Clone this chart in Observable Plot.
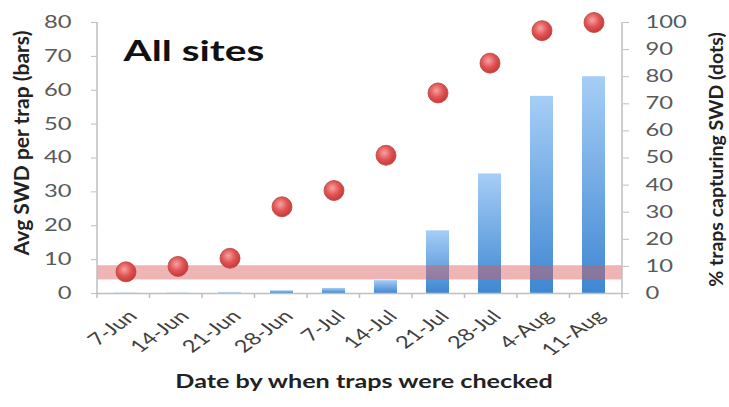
<!DOCTYPE html>
<html>
<head>
<meta charset="utf-8">
<script src="https://cdn.jsdelivr.net/npm/d3@7"></script>
<script src="https://cdn.jsdelivr.net/npm/@observablehq/plot@0.6"></script>
<style>
  html, body { margin: 0; padding: 0; background: #fff; }
  #chart { width: 729px; height: 407px; }
</style>
</head>
<body>
<div id="chart"></div>
<script>
// ---- data ----
const dates = ["7-Jun", "14-Jun", "21-Jun", "28-Jun", "7-Jul", "14-Jul", "21-Jul", "28-Jul", "4-Aug", "11-Aug"];
const avgSWD = [0.1, 0.1, 0.2, 0.8, 1.5, 3.8, 18.5, 35.3, 58.2, 64.0];      // bars, left axis
const pctTraps = [8, 10, 13, 32, 38, 51, 74, 85, 97, 100];                   // dots, right axis (%)
const leftTicks = [0, 10, 20, 30, 40, 50, 60, 70, 80];
const rightTicks = [0, 10, 20, 30, 40, 50, 60, 70, 80, 90, 100];
const leftMax = 80;
const rightMax = 100;
const thresholdBand = [4, 8.2];   // shaded band, in left-axis units
const title = "All sites";
const leftLabel = "Avg SWD per trap (bars)";
const rightLabel = "% traps capturing SWD (dots)";
const xLabel = "Date by when traps were checked";

const rows = dates.map((d, i) => ({date: d, avg: avgSWD[i], pct: pctTraps[i]}));
const k = leftMax / rightMax;   // right-axis value -> left-axis units

const NS = "http://www.w3.org/2000/svg";
function defs() {
  const g = document.createElementNS(NS, "defs");
  g.innerHTML = `
    <linearGradient id="barGrad" x1="0" y1="0" x2="0" y2="1">
      <stop offset="0" stop-color="#a6cef6"/>
      <stop offset="1" stop-color="#3f87d2"/>
    </linearGradient>
    <radialGradient id="dotGrad" cx="0.42" cy="0.38" r="0.62">
      <stop offset="0" stop-color="#f5a3a3"/>
      <stop offset="0.55" stop-color="#e25454"/>
      <stop offset="1" stop-color="#c83a3a"/>
    </radialGradient>`;
  return g;
}

const font = "Lato, 'Open Sans', sans-serif";

const chart = Plot.plot({
  width: 729,
  height: 407,
  marginLeft: 97,
  marginRight: 107,
  marginTop: 22,
  marginBottom: 114,
  style: {fontFamily: font, background: "#fff"},
  x: {type: "band", domain: dates, paddingInner: 0.56, paddingOuter: 0.28, axis: null},
  y: {domain: [0, leftMax], axis: null},
  marks: [
    defs,
    Plot.barY(rows, {x: "date", y: "avg", fill: "url(#barGrad)"}),
    Plot.rectY([thresholdBand], {y1: d => d[0], y2: d => d[1], fill: "#d95a58", fillOpacity: 0.45}),
    Plot.ruleY([0], {stroke: "#bfbfbf", strokeWidth: 1.5}),
    Plot.axisY({anchor: "left", ticks: leftTicks, tickSize: 6, tickPadding: 20, fontSize: 17,
                stroke: "#bfbfbf", fill: "#595959", label: null}),
    Plot.axisY({anchor: "right", ticks: rightTicks.map(v => v * k), tickFormat: v => Math.round(v / k),
                tickSize: 6, tickPadding: 17, fontSize: 17, stroke: "#bfbfbf", fill: "#595959", label: null}),
    Plot.axisX({anchor: "bottom", tickSize: 0, tickPadding: 20, tickRotate: -45, fontSize: 17,
                dx: 7, fill: "#404040", label: null}),
    Plot.dot(rows, {x: "date", y: d => d.pct * k, r: 10, fill: "url(#dotGrad)", stroke: "#b84444", strokeWidth: 0.8}),
    Plot.text([title], {text: d => d, frameAnchor: "top-left", dx: 26, dy: 18, fontSize: 29,
                        fontWeight: "bold", fill: "#111", textAnchor: "start"}),
    Plot.text([leftLabel], {text: d => d, frameAnchor: "left", dx: -75, dy: -15, rotate: -90,
                            textAnchor: "middle", fontSize: 21, fontWeight: "bold", fill: "#222"}),
    Plot.text([rightLabel], {text: d => d, frameAnchor: "right", dx: 94, dy: 1.5, rotate: -90,
                             textAnchor: "middle", fontSize: 19.5, fontWeight: "bold", fill: "#222"}),
    Plot.text([xLabel], {text: d => d, frameAnchor: "bottom", dx: 4, dy: 94, fontSize: 18,
                         fontWeight: "bold", fill: "#222"})
  ]
});

// axis lines and category-boundary ticks derived from Plot's scales
const sx = chart.scale("x"), sy = chart.scale("y");
const [r0, r1] = sx.range;
const step = (r1 - r0) / dates.length;
const y0 = sy.apply(0), yTop = sy.apply(leftMax);
const svg = d3.select(chart);
const g = svg.append("g").attr("stroke", "#bfbfbf").attr("stroke-width", 1.5);
g.append("line").attr("x1", r0).attr("x2", r0).attr("y1", yTop).attr("y2", y0);
g.append("line").attr("x1", r1).attr("x2", r1).attr("y1", yTop).attr("y2", y0);
d3.range(dates.length + 1).forEach(i => {
  const x = r0 + i * step;
  g.append("line").attr("x1", x).attr("x2", x).attr("y1", y0).attr("y2", y0 + 5);
});

// the reference picture is stretched horizontally: widen the horizontal-ish text the same way
const hStretch = 1.4;
const isNum = v => v != null && /^\s*-?[\d.]+\s*$/.test(v);
svg.selectAll("text").each(function () {
  const t = this.getAttribute("transform") || "";
  if (/rotate\(-90\)/.test(t)) return;
  const xa = this.getAttribute("x"), ya = this.getAttribute("y");
  let x = 0, y = 0;
  if (isNum(xa)) { x = +xa; this.removeAttribute("x"); }
  if (isNum(ya)) { y = +ya; this.removeAttribute("y"); }
  const m = t.match(/^(.*?)(\s*rotate\([^)]*\))?\s*$/);
  const pre = m ? m[1] : t, rot = m && m[2] ? m[2] : "";
  this.setAttribute("transform", `${pre} translate(${x},${y}) scale(${hStretch},1)${rot}`);
});

document.getElementById("chart").appendChild(chart);
</script>
</body>
</html>
